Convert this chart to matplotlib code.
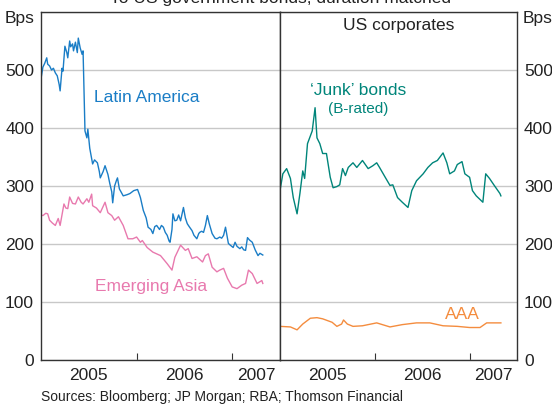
import matplotlib
matplotlib.use("Agg")
import matplotlib.pyplot as plt
from matplotlib.ticker import FixedLocator, NullFormatter, FixedFormatter

plt.rcParams["font.family"] = ["Liberation Sans", "DejaVu Sans"]

# spreads to US government bonds, bps (dates as decimal years)
latam_t = [2005.00, 2005.02, 2005.04, 2005.06, 2005.07, 2005.09, 2005.11, 2005.13, 2005.15, 2005.17,
           2005.19, 2005.20, 2005.22, 2005.23, 2005.25, 2005.27, 2005.28, 2005.30, 2005.31, 2005.33,
           2005.34, 2005.36, 2005.38, 2005.39, 2005.41, 2005.43, 2005.44, 2005.46, 2005.48, 2005.49,
           2005.51, 2005.52, 2005.54, 2005.56, 2005.59, 2005.61, 2005.62, 2005.65, 2005.67, 2005.70,
           2005.72, 2005.74, 2005.75, 2005.77, 2005.79, 2005.80, 2005.82, 2005.83, 2005.86, 2005.90,
           2005.93, 2005.97, 2006.01, 2006.03, 2006.04, 2006.07, 2006.10, 2006.12, 2006.15, 2006.17,
           2006.19, 2006.21, 2006.24, 2006.26, 2006.28, 2006.30, 2006.32, 2006.34, 2006.35, 2006.37,
           2006.38, 2006.40, 2006.42, 2006.44, 2006.46, 2006.49, 2006.51, 2006.53, 2006.55, 2006.58,
           2006.60, 2006.63, 2006.65, 2006.66, 2006.68, 2006.70, 2006.72, 2006.74, 2006.76, 2006.79,
           2006.82, 2006.84, 2006.87, 2006.89, 2006.91, 2006.93, 2006.96, 2006.98, 2007.01, 2007.03,
           2007.05, 2007.08, 2007.10, 2007.12, 2007.14, 2007.16, 2007.18, 2007.21, 2007.24, 2007.27,
           2007.29, 2007.32]
latam = [485, 505, 512, 521, 510, 507, 500, 503, 495, 490,
         475, 464, 503, 498, 541, 530, 521, 550, 540, 545,
         533, 548, 530, 555, 538, 527, 533, 395, 383, 398,
         365, 356, 338, 345, 340, 325, 314, 325, 335, 320,
         304, 290, 271, 300, 310, 314, 295, 292, 283, 285,
         287, 292, 294, 285, 280, 258, 245, 229, 225, 218,
         230, 232, 225, 232, 229, 220, 215, 205, 203, 225,
         252, 240, 241, 250, 240, 263, 245, 235, 230, 223,
         215, 209, 218, 220, 222, 220, 232, 249, 235, 218,
         210, 209, 212, 210, 215, 229, 201, 198, 194, 203,
         196, 192, 195, 190, 189, 211, 207, 203, 190, 180,
         184, 181]

asia_t = [2005.00, 2005.02, 2005.05, 2005.07, 2005.09, 2005.12, 2005.15, 2005.18, 2005.20, 2005.24,
          2005.26, 2005.28, 2005.30, 2005.33, 2005.36, 2005.39, 2005.42, 2005.44, 2005.48, 2005.50,
          2005.53, 2005.54, 2005.58, 2005.62, 2005.67, 2005.70, 2005.74, 2005.77, 2005.81, 2005.86,
          2005.91, 2005.96, 2006.00, 2006.04, 2006.06, 2006.11, 2006.17, 2006.25, 2006.32, 2006.37,
          2006.40, 2006.46, 2006.51, 2006.54, 2006.58, 2006.63, 2006.69, 2006.72, 2006.75, 2006.79,
          2006.84, 2006.87, 2006.91, 2006.95, 2007.00, 2007.05, 2007.10, 2007.14, 2007.17, 2007.21,
          2007.26, 2007.31, 2007.32]
asia = [250, 249, 253, 252, 241, 236, 232, 244, 232, 269,
        262, 261, 281, 270, 269, 281, 272, 269, 278, 272,
        286, 266, 262, 254, 272, 254, 249, 241, 247, 232,
        209, 209, 212, 203, 206, 194, 186, 180, 166, 155,
        177, 198, 189, 192, 175, 178, 169, 180, 183, 160,
        152, 155, 158, 141, 126, 123, 129, 132, 155, 149,
        132, 137, 132]

junk_t = [2005.00, 2005.03, 2005.07, 2005.11, 2005.14, 2005.18, 2005.21, 2005.24, 2005.26, 2005.29,
          2005.34, 2005.37, 2005.39, 2005.42, 2005.45, 2005.49, 2005.53, 2005.56, 2005.60, 2005.63,
          2005.66, 2005.69, 2005.72, 2005.77, 2005.81, 2005.87, 2005.93, 2005.98, 2006.02, 2006.05,
          2006.11, 2006.16, 2006.19, 2006.24, 2006.29, 2006.35, 2006.39, 2006.44, 2006.51, 2006.56,
          2006.61, 2006.66, 2006.72, 2006.76, 2006.79, 2006.84, 2006.87, 2006.92, 2006.95, 2007.00,
          2007.03, 2007.07, 2007.14, 2007.17, 2007.21, 2007.26, 2007.32, 2007.33]
junk = [292, 321, 330, 313, 280, 252, 287, 326, 313, 373,
        395, 435, 383, 373, 356, 356, 315, 297, 299, 302,
        330, 318, 332, 340, 332, 344, 330, 335, 340, 332,
        315, 301, 302, 280, 272, 263, 292, 309, 321, 332,
        340, 344, 357, 340, 321, 326, 337, 342, 321, 315,
        292, 283, 272, 321, 313, 301, 287, 283]

aaa_t = [2005.00, 2005.11, 2005.18, 2005.24, 2005.32, 2005.39, 2005.45, 2005.55, 2005.60, 2005.65,
         2005.67, 2005.71, 2005.77, 2005.87, 2006.02, 2006.16, 2006.29, 2006.44, 2006.58, 2006.72,
         2006.87, 2007.00, 2007.11, 2007.18, 2007.24, 2007.33]
aaa = [58, 57, 52, 62, 72, 73, 71, 65, 58, 62,
       69, 62, 58, 59, 64, 57, 61, 64, 64, 59,
       58, 56, 56, 64, 64, 64]

BLUE = "#1a7dc6"
PINK = "#e879ae"
TEAL = "#00857a"
ORANGE = "#f48c3e"
FRAME = "#333333"
TXT = "#222222"

fig = plt.figure(figsize=(5.52, 4.07), dpi=100)
W, H = 552, 407
ax1 = fig.add_axes([41 / W, 47 / H, 239 / W, 348 / H])
ax2 = fig.add_axes([280 / W, 47 / H, 237 / W, 348 / H])

for ax in (ax1, ax2):
    ax.set_xlim(2005.0, 2007.5)
    ax.set_ylim(0, 600)
    ax.set_yticks([0, 100, 200, 300, 400, 500, 600])
    ax.grid(axis="y", color="#c8c8c8", lw=1)
    ax.set_axisbelow(True)
    for s in ax.spines.values():
        s.set_color(FRAME)
        s.set_linewidth(1)
    ax.xaxis.set_major_locator(FixedLocator([2006, 2007]))
    ax.xaxis.set_major_formatter(NullFormatter())
    ax.xaxis.set_minor_locator(FixedLocator([2005.5, 2006.5, 2007.25]))
    ax.xaxis.set_minor_formatter(FixedFormatter(["2005", "2006", "2007"]))
    ax.tick_params(axis="x", which="major", direction="in", length=5, color=FRAME)
    ax.tick_params(axis="x", which="minor", length=0, pad=6, labelsize=12.5, labelcolor=TXT)
    ax.tick_params(axis="y", length=0, labelsize=12.5, labelcolor=TXT)

ylabels = ["0", "100", "200", "300", "400", "500", ""]
ax1.set_yticklabels(ylabels)
ax1.tick_params(axis="y", pad=5)
ax2.yaxis.tick_right()
ax2.set_yticklabels(ylabels)
ax2.tick_params(axis="y", pad=5)

ax1.plot(latam_t, latam, color=BLUE, lw=1.0)
ax1.plot(asia_t, asia, color=PINK, lw=1.0)
ax2.plot(junk_t, junk, color=TEAL, lw=1.0)
ax2.plot(aaa_t, aaa, color=ORANGE, lw=1.0)

ax1.text(2005.555, 453, "Latin America", color=BLUE, fontsize=12.5, va="center")
ax1.text(2005.565, 127, "Emerging Asia", color=PINK, fontsize=12.5, va="center")
ax2.text(2005.82, 465, "\u2018Junk\u2019 bonds", color=TEAL, fontsize=12.5, ha="center", va="center")
ax2.text(2005.82, 433, "(B-rated)", color=TEAL, fontsize=11, ha="center", va="center")
ax2.text(2006.74, 78, "AAA", color=ORANGE, fontsize=12.5, va="center")
ax2.text(0.5, 577, "US corporates", transform=ax2.get_yaxis_transform(), fontsize=12.5,
         ha="center", va="center", color=TXT)

fig.text(20 / W, 1 - 18 / H, "Bps", fontsize=12.5, ha="center", va="center", color=TXT)
fig.text(538 / W, 1 - 18 / H, "Bps", fontsize=12.5, ha="center", va="center", color=TXT)
fig.text(280 / W, 1 - 3 / H, "To US government bonds, duration matched", fontsize=12.5,
         ha="center", va="baseline", color=TXT)
fig.text(41 / W, 1 - 397 / H, "Sources: Bloomberg; JP Morgan; RBA; Thomson Financial",
         fontsize=10, ha="left", va="center", color=TXT)

fig.savefig("out.png", dpi=100)
